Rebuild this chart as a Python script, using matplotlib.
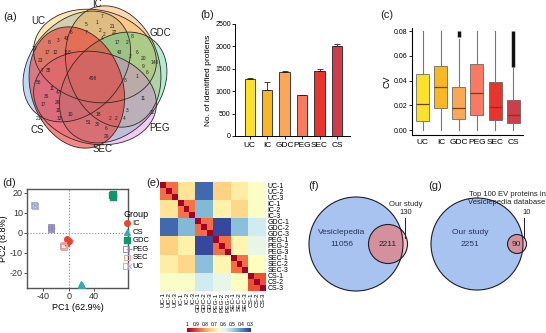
import numpy as np
import matplotlib
matplotlib.use('Agg')
import matplotlib.pyplot as plt
from matplotlib.patches import Ellipse, Circle
from matplotlib.legend_handler import HandlerTuple

plt.rcParams['font.family'] = ['Liberation Sans', 'DejaVu Sans']

W, H = 546, 333

# ---------------- data ----------------
groups = ['UC', 'IC', 'GDC', 'PEG', 'SEC', 'CS']
group_colors = ['#fbe02c', '#f9b726', '#fba75a', '#f97a60', '#e8342c', '#cf3d4a']

# (a) six-set venn counts
venn_sets = ['UC', 'IC', 'GDC', 'PEG', 'SEC', 'CS']
venn_colors = ['#4a9ee8', '#f5c43c', '#f79a3a', '#2dcf8a', '#d576e0', '#e8403a']
venn_counts = [7, 5, 1, 21, 6, 7, 2, 2, 22, 8, 4, 17, 2, 8, 3, 43, 29, 17, 12, 118,
               43, 2, 6, 20, 140, 23, 9, 7, 38, 498, 8, 6, 1, 56, 11, 47, 36, 26,
               11, 17, 11, 3, 12, 18, 2, 211, 13, 10, 2, 4, 51, 30, 6, 29]

# (b) identified proteins
n_proteins = [1270, 1020, 1430, 910, 1450, 2000]
n_err = [15, 190, 20, 12, 40, 50]

# (c) CV box statistics
cv_q1 = [0.007, 0.018, 0.009, 0.012, 0.008, 0.006]
cv_med = [0.021, 0.035, 0.018, 0.030, 0.019, 0.012]
cv_q3 = [0.045, 0.052, 0.035, 0.053, 0.039, 0.024]
cv_lo = [0.0, 0.0, 0.0, 0.0, 0.0, 0.0]
cv_hi = [0.080, 0.080, 0.074, 0.080, 0.080, 0.050]
cv_flier_lo = [None, None, 0.075, None, None, 0.051]
cv_flier_hi = [None, None, 0.080, None, None, 0.080]

# (d) PCA scores
pca_groups = ['IC', 'CS', 'GDC', 'PEG', 'SEC', 'UC']
pca_pc1 = {'IC': [-2, 0, -3], 'CS': [20, 21, 19], 'GDC': [69, 70, 70],
           'PEG': [-28, -27, -28], 'SEC': [-8, -7, -9], 'UC': [-55, -53, -54]}
pca_pc2 = {'IC': [-3, -4, -5], 'CS': [-26, -26, -25.5], 'GDC': [19, 18, 19.5],
           'PEG': [3, 2.5, 2], 'SEC': [-6, -7, -6.5], 'UC': [14, 13.5, 14]}

# (e) correlation between groups (UC, IC, GDC, PEG, SEC, CS)
group_corr = [[0.86, 0.71, 0.36, 0.74, 0.69, 0.64],
              [0.71, 0.85, 0.46, 0.68, 0.73, 0.64],
              [0.36, 0.46, 0.86, 0.32, 0.47, 0.56],
              [0.74, 0.68, 0.32, 0.86, 0.67, 0.60],
              [0.69, 0.73, 0.47, 0.67, 0.86, 0.65],
              [0.64, 0.64, 0.56, 0.60, 0.65, 0.89]]
replicates = ['1', '2', '3']
sample_names = [g + '-' + r for g in groups for r in replicates]

# (f), (g) overlaps
vesiclepedia_only = 11056
overlap_f = 2211
our_only_f = 130
our_only_g = 2251
overlap_g = 90
top100_only = 10

fig = plt.figure(figsize=(W / 100, H / 100), dpi=100)


def rect(x0, y0, x1, y1):
    return [x0 / W, 1 - y1 / H, (x1 - x0) / W, (y1 - y0) / H]


# ---------------- (b) bars ----------------
axb = fig.add_axes(rect(235, 24, 350, 136))
xb = np.arange(len(groups))
axb.bar(xb, n_proteins, 0.6, color=group_colors, edgecolor='#222222', linewidth=0.6)
axb.errorbar(xb, n_proteins, yerr=[np.zeros(len(xb)), n_err], fmt='none',
             ecolor='#222222', elinewidth=0.6, capsize=2, capthick=0.6)
axb.set_xlim(-0.85, 5.75)
axb.set_ylim(0, 2500)
axb.set_yticks([0, 500, 1000, 1500, 2000, 2500])
axb.set_xticks(xb)
axb.set_xticklabels(groups)
axb.tick_params(axis='y', labelsize=5, length=2, width=0.6, pad=1)
axb.tick_params(axis='x', labelsize=6, length=2, width=0.6, pad=2)
axb.set_ylabel('No. of identified protiens', fontsize=6, labelpad=2)
for s in ['top', 'right']:
    axb.spines[s].set_visible(False)
for s in ['left', 'bottom']:
    axb.spines[s].set_linewidth(0.7)

# ---------------- (c) boxes ----------------
axc = fig.add_axes(rect(412, 28, 523, 135))
stats = []
for i, g in enumerate(groups):
    stats.append({'med': cv_med[i], 'q1': cv_q1[i], 'q3': cv_q3[i],
                  'whislo': cv_lo[i], 'whishi': cv_hi[i], 'fliers': []})
bp = axc.bxp(stats, positions=range(len(groups)), widths=0.72, patch_artist=True,
             showfliers=False, showcaps=False,
             boxprops=dict(linewidth=0.5, edgecolor='#555555'),
             whiskerprops=dict(linewidth=0.8, color='#777777'),
             medianprops=dict(linewidth=0.9, color='#7a3b1c'))
for patch, c in zip(bp['boxes'], group_colors):
    patch.set_facecolor(c)
for i in range(len(groups)):
    if cv_flier_lo[i] is not None:
        axc.vlines(i, cv_flier_lo[i], cv_flier_hi[i], color='#111111', linewidth=2.5)
axc.set_xlim(-0.6, 5.55)
axc.set_ylim(-0.004, 0.0825)
axc.set_yticks([0.0, 0.02, 0.04, 0.06, 0.08])
axc.set_yticklabels(['0.00', '0.02', '0.04', '0.06', '0.08'])
axc.set_xticks(range(len(groups)))
axc.set_xticklabels(groups)
axc.tick_params(axis='y', labelsize=5, length=2, width=0.6, pad=1)
axc.tick_params(axis='x', labelsize=6, length=0, pad=3)
axc.set_ylabel('CV', fontsize=6.5, labelpad=2)
for s in ['top', 'right']:
    axc.spines[s].set_visible(False)
for s in ['left', 'bottom']:
    axc.spines[s].set_linewidth(0.8)

# ---------------- (d) PCA ----------------
axd = fig.add_axes(rect(27, 189, 128, 288))
pca_style = {
    'IC': [dict(marker='o', color='#e8452c', s=16)],
    'CS': [dict(marker='^', color='#35aab8', s=16)],
    'GDC': [dict(marker='s', color='#13946a', s=16)],
    'PEG': [dict(marker='s', facecolors='none', edgecolors='#8a86b8', s=16, linewidths=0.6),
            dict(marker='+', color='#8a86b8', s=16, linewidths=0.6)],
    'SEC': [dict(marker='s', facecolors='none', edgecolors='#f2a0a0', s=16, linewidths=0.7)],
    'UC': [dict(marker='s', facecolors='none', edgecolors='#a8a8d8', s=16, linewidths=0.6),
           dict(marker='x', color='#a8a8d8', s=11, linewidths=0.6)],
}
handles = []
for g in pca_groups:
    hs = []
    for st in pca_style[g]:
        hs.append(axd.scatter(pca_pc1[g], pca_pc2[g], zorder=3, **st))
    handles.append(tuple(hs))
axd.axhline(0, color='#888888', linestyle=':', linewidth=0.8, zorder=1)
axd.axvline(0, color='#888888', linestyle=':', linewidth=0.8, zorder=1)
axd.set_xlim(-66, 94)
axd.set_ylim(-27.5, 22)
axd.set_xticks([-40, 0, 40])
axd.set_yticks([-20, -10, 0, 10, 20])
axd.set_xticklabels(['-40', '0', '40'])
axd.set_yticklabels(['-20', '-10', '0', '10', '20'])
axd.tick_params(labelsize=6.5, length=2, width=0.6, pad=1, colors='#333333')
axd.set_xlabel('PC1 (62.9%)', fontsize=6.5, labelpad=1)
axd.set_ylabel('PC2 (8.8%)', fontsize=6.5, labelpad=1)
for s in axd.spines.values():
    s.set_color('#555555')
    s.set_linewidth(1.0)
leg = axd.legend(handles, pca_groups, handler_map={tuple: HandlerTuple(ndivide=None, pad=0)},
                 title='Group', fontsize=5.5, title_fontsize=6.5, frameon=False,
                 loc='upper left', bbox_to_anchor=(0.93, 0.82), handlelength=0.8,
                 handletextpad=0.3, labelspacing=0.15, borderaxespad=0)
leg._legend_box.align = 'left'

# ---------------- (e) heatmap ----------------
axe = fig.add_axes(rect(160, 182, 266, 291))
gc = np.array(group_corr)
corr = np.kron(gc, np.ones((3, 3)))
corr[np.arange(len(sample_names)), np.arange(len(sample_names))] = 1.0
axe.imshow(corr, cmap='RdYlBu_r', vmin=0.3, vmax=1.0, aspect='auto', interpolation='nearest')
axe.set_xticks(range(len(sample_names)))
axe.set_yticks(range(len(sample_names)))
axe.set_xticklabels(sample_names, rotation=90, fontsize=4.6)
axe.set_yticklabels(sample_names, fontsize=5)
axe.yaxis.tick_right()
axe.tick_params(length=0, pad=1)
for s in axe.spines.values():
    s.set_visible(False)

axcb = fig.add_axes(rect(187, 328, 250, 332))
cb_vals = [1.0, 0.9, 0.8, 0.7, 0.6, 0.5, 0.4, 0.3]
axcb.imshow(np.linspace(1.0, 0.3, 100)[None, :], cmap='RdYlBu_r', vmin=0.3, vmax=1.0,
            aspect='auto', extent=(1.0, 0.3, 0, 1))
axcb.set_xlim(1.0, 0.3)
axcb.set_xticks(cb_vals)
axcb.set_xticklabels(['1', '0.9', '0.8', '0.7', '0.6', '0.5', '0.4', '0.3'])
axcb.xaxis.tick_top()
axcb.tick_params(labelsize=3.5, length=0, pad=1)
axcb.set_yticks([])
for s in axcb.spines.values():
    s.set_visible(False)

# ---------------- overlay: venns and panel labels ----------------
ov = fig.add_axes([0, 0, 1, 1], facecolor='none')
ov.set_xlim(0, W)
ov.set_ylim(H, 0)
ov.axis('off')

# (a) six-set venn
cx, cy = 95, 77
for k, (name, col) in enumerate(zip(venn_sets, venn_colors)):
    ang = 210 + 60 * k
    t = np.deg2rad(ang)
    ex, ey = cx + 21 * np.cos(t), cy + 21 * np.sin(t)
    alpha = 0.62 if name == 'CS' else 0.38
    ov.add_patch(Ellipse((ex, ey), 92, 124, angle=ang + 12, facecolor=col, alpha=alpha,
                         edgecolor='none', zorder=2))
    ov.add_patch(Ellipse((ex, ey), 92, 124, angle=ang + 12, facecolor='none',
                         edgecolor='#3a2626', linewidth=0.6, zorder=3))
venn_label_xy = [(38, 21), (97, 4), (160, 33), (160, 128), (103, 149), (37, 130)]
for name, (lx, ly) in zip(venn_sets, venn_label_xy):
    ov.text(lx, ly, name, fontsize=7, ha='center', va='center', color='#222222')
venn_count_xy = [(102, 16), (86, 25), (97, 23), (113, 26), (71, 32), (86, 33), (100, 31),
                 (104, 35), (115, 33), (132, 37), (102, 39), (117, 42), (127, 43),
                 (49, 42), (58, 41), (67, 39), (35, 48), (47, 53), (55, 52), (68, 52),
                 (120, 52), (130, 57), (137, 53), (144, 58), (155, 62), (40, 61),
                 (143, 66), (42, 70), (49, 70), (93, 78), (125, 81), (147, 73),
                 (137, 76), (39, 83), (52, 89), (59, 93), (47, 97), (58, 103),
                 (143, 98), (43, 104), (58, 110), (127, 110), (152, 113), (98, 114),
                 (116, 119), (40, 118), (59, 119), (70, 114), (110, 119), (124, 119),
                 (89, 122), (98, 125), (106, 128), (107, 137)]
for v, (tx, ty) in zip(venn_counts, venn_count_xy):
    ov.text(tx, ty, str(v), fontsize=3.5, ha='center', va='center', color='#222222', zorder=4)

# (f)
big_f = Circle((356, 244), 47, facecolor='#a9c3f0', edgecolor='none', zorder=2)
ov.add_patch(big_f)
ov.add_patch(Circle((388, 244), 19.5, facecolor='#f6c4cc', edgecolor='none', zorder=3))
inner_f = Circle((388, 244), 19.5, facecolor='#d4919d', edgecolor='none', zorder=4)
ov.add_patch(inner_f)
inner_f.set_clip_path(big_f)
ov.add_patch(Circle((356, 244), 47, facecolor='none', edgecolor='#1e1e2a', linewidth=0.8, zorder=5))
ov.add_patch(Circle((388, 244), 19.5, facecolor='none', edgecolor='#1e1e2a', linewidth=0.8, zorder=5))
ov.text(342, 232, 'Vesiclepedia', fontsize=6, ha='center', va='center', color='#27345e', zorder=6)
ov.text(342, 244, str(vesiclepedia_only), fontsize=6, ha='center', va='center', color='#27345e', zorder=6)
ov.text(388, 244, str(overlap_f), fontsize=6, ha='center', va='center', color='#222222', zorder=6)
ov.text(406, 204, 'Our study', fontsize=5.5, ha='center', va='center', color='#222222')
ov.text(406, 213, str(our_only_f), fontsize=5.5, ha='center', va='center', color='#222222')
ov.plot([405, 405], [218, 238], color='#222222', linewidth=0.7, zorder=6)

# (g)
big_g = Circle((477, 244), 46, facecolor='#a9c3f0', edgecolor='none', zorder=2)
ov.add_patch(big_g)
ov.add_patch(Circle((517, 244), 9.5, facecolor='#f6c4cc', edgecolor='none', zorder=3))
inner_g = Circle((517, 244), 9.5, facecolor='#d4919d', edgecolor='none', zorder=4)
ov.add_patch(inner_g)
inner_g.set_clip_path(big_g)
ov.add_patch(Circle((477, 244), 46, facecolor='none', edgecolor='#1e1e2a', linewidth=0.8, zorder=5))
ov.add_patch(Circle((517, 244), 9.5, facecolor='none', edgecolor='#1e1e2a', linewidth=0.8, zorder=5))
ov.text(470, 232, 'Our study', fontsize=6, ha='center', va='center', color='#27345e', zorder=6)
ov.text(470, 244, str(our_only_g), fontsize=6, ha='center', va='center', color='#27345e', zorder=6)
ov.text(516, 244, str(overlap_g), fontsize=6, ha='center', va='center', color='#222222', zorder=6)
ov.text(507, 194, 'Top 100 EV proteins in', fontsize=5.5, ha='center', va='center', color='#222222', zorder=6)
ov.text(507, 203, 'Vesiclepedia database', fontsize=5.5, ha='center', va='center', color='#222222', zorder=6)
ov.text(527, 213, str(top100_only), fontsize=5.5, ha='center', va='center', color='#222222')
ov.plot([524, 524], [218, 238], color='#222222', linewidth=0.7, zorder=6)

# panel labels
panel_xy = [('(a)', 3, 17), ('(b)', 200, 15), ('(c)', 380, 15), ('(d)', 2, 183),
            ('(e)', 146, 183), ('(f)', 308, 186), ('(g)', 428, 186)]
for lab, px, py in panel_xy:
    ov.text(px, py, lab, fontsize=8, ha='left', va='center', color='#222222')

fig.savefig('out.png', dpi=100)
